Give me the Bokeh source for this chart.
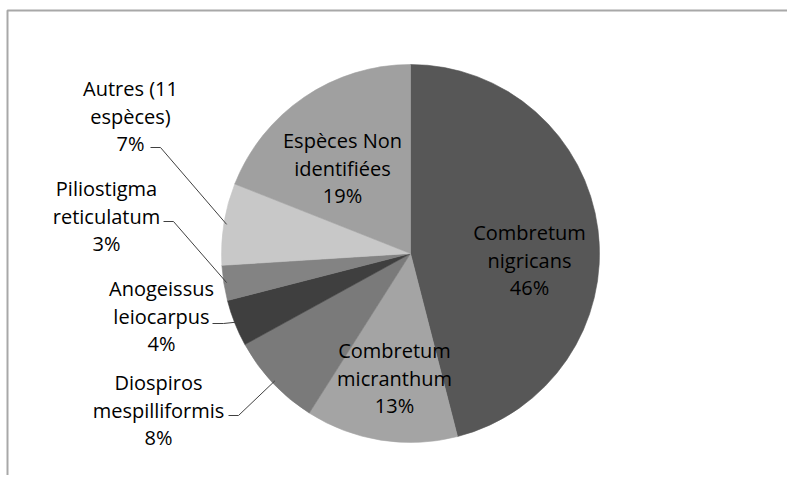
import numpy as np
from bokeh.plotting import figure
from bokeh.models import Range1d, ColumnDataSource
from bokeh.core.properties import value
from bokeh.embed import file_html
from bokeh.resources import INLINE

# ---- data ----
categories = [
    "Combretum\nnigricans",
    "Combretum\nmicranthum",
    "Diospiros\nmespilliformis",
    "Anogeissus\nleiocarpus",
    "Piliostigma\nreticulatum",
    "Autres (11\nespèces)",
    "Espèces Non\nidentifiées",
]
percents = [46, 13, 8, 4, 3, 7, 19]

# ---- style / layout ----
colors = ["#575757", "#a4a4a4", "#7a7a7a", "#3f3f3f", "#838383", "#c8c8c8", "#a0a0a0"]
W, H = 787, 475
def dx(sx): return sx
def dy(sy): return H - sy

CX, CY, R = 410, 253, 189  # screen coords of pie centre, radius in px
# first-line centre of each label (screen px)
label_xy = [(529, 232), (394, 350), (158, 382), (161, 288), (106, 188), (130, 88), (342, 140)]
LINE_H = 27.5
# leader: horizontal start (screen) for outside labels: (x0, x1, y)
leaders = {2: (228, 238, 415), 3: (212, 223, 323), 4: (163, 173, 221), 5: (150, 160, 147)}

p = figure(width=W, height=H, output_backend="svg", toolbar_location=None,
           x_range=Range1d(0, W), y_range=Range1d(0, H), min_border=0)
p.axis.visible = False
p.grid.visible = False
p.outline_line_color = None
p.background_fill_color = "white"
p.border_fill_color = "white"

vals = np.array(percents, dtype=float)
frac = vals / vals.sum()
cum = np.concatenate([[0], np.cumsum(frac)])
start = np.pi / 2 - cum[:-1] * 2 * np.pi
end = np.pi / 2 - cum[1:] * 2 * np.pi
src = ColumnDataSource(dict(start=start, end=end, color=colors))
p.wedge(x=dx(CX), y=dy(CY), radius=R, radius_units="screen",
        start_angle="start", end_angle="end", direction="clock",
        fill_color="color", line_color="color", line_width=0.6, source=src)

# leader lines
for i, (x0, x1, y) in leaders.items():
    mid = (start[i] + end[i]) / 2
    ex = CX + 0.985 * R * np.cos(mid)
    ey = CY - 0.985 * R * np.sin(mid)
    p.line([dx(x0), dx(x1), dx(ex)], [dy(y), dy(y), dy(ey)], line_color="#404040", line_width=1)

# labels
tx, ty, tt = [], [], []
for i, name in enumerate(categories):
    lines = name.split("\n") + [f"{percents[i]}%"]
    x0, y0 = label_xy[i]
    for k, t in enumerate(lines):
        tx.append(dx(x0)); ty.append(dy(y0 + k * LINE_H)); tt.append(t)
p.text(x=tx, y=ty, text=tt, text_align="center", text_baseline="middle",
       text_font=value("Open Sans"), text_font_size="20px", text_color="#000000")

# chart border (top and left visible)
p.line([7, 7, W], [0, dy(10), dy(10)], line_color="#a8a8a8", line_width=2)

open("out.html", "w").write(file_html(p, INLINE))
